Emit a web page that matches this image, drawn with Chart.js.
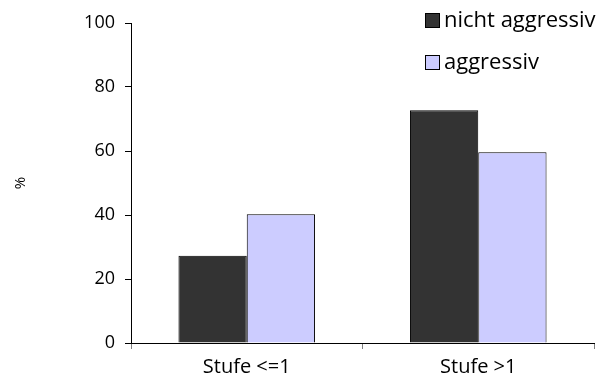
<!DOCTYPE html>
<html lang="de">
<head>
    <meta charset="UTF-8">
    <title>Aggressivität nach Stufe</title>
    <script src="https://cdn.jsdelivr.net/npm/chart.js"></script>
    <style>
        html, body { margin: 0; padding: 0; background: #fff; }
        #wrap { width: 608px; height: 385px; }
    </style>
</head>
<body>
    <div id="wrap"><canvas id="chart" width="608" height="385"></canvas></div>

    <script>
        // categories and series
        const categories = ['Stufe <=1', 'Stufe >1'];
        const nichtAggressiv = [27.3, 72.7];
        const aggressiv = [40.2, 59.6];
        const yTicks = [0, 20, 40, 60, 80, 100];

        const FONT = "'Open Sans', 'DejaVu Sans', sans-serif";

        // legend drawn in the top right corner, like the original
        const cornerLegend = {
            id: 'cornerLegend',
            afterDraw(chart) {
                const ctx = chart.ctx;
                ctx.save();
                ctx.font = '22px ' + FONT;
                ctx.textBaseline = 'middle';
                chart.data.datasets.forEach((ds, i) => {
                    const y = 21 + i * 42;
                    ctx.fillStyle = ds.backgroundColor;
                    ctx.strokeStyle = '#000';
                    ctx.lineWidth = 1;
                    ctx.fillRect(425.5, y - 7.5, 14, 14);
                    ctx.strokeRect(425.5, y - 7.5, 14, 14);
                    ctx.fillStyle = '#000';
                    ctx.fillText(ds.label, 444, y);
                });
                ctx.restore();
            }
        };

        new Chart(document.getElementById('chart').getContext('2d'), {
            type: 'bar',
            data: {
                labels: categories,
                datasets: [
                    {
                        label: 'nicht aggressiv',
                        data: nichtAggressiv,
                        backgroundColor: '#333333',
                        borderColor: '#000000',
                        borderWidth: 1
                    },
                    {
                        label: 'aggressiv',
                        data: aggressiv,
                        backgroundColor: '#ccccff',
                        borderColor: '#000000',
                        borderWidth: 1
                    }
                ]
            },
            options: {
                responsive: false,
                animation: false,
                layout: { padding: { top: 23, right: 14, left: 12, bottom: 0 } },
                datasets: { bar: { categoryPercentage: 0.59, barPercentage: 1 } },
                plugins: {
                    legend: { display: false },
                    tooltip: { enabled: false }
                },
                scales: {
                    x: {
                        grid: {
                            offset: true,
                            drawOnChartArea: false,
                            tickLength: 6,
                            color: '#808080'
                        },
                        border: { color: '#000', width: 1 },
                        ticks: { color: '#000', font: { family: FONT, size: 20 }, padding: 6 },
                        afterFit: s => { s.height = 42; }
                    },
                    y: {
                        min: 0,
                        max: 100,
                        afterBuildTicks: s => { s.ticks = yTicks.map(v => ({ value: v })); },
                        grid: {
                            drawOnChartArea: false,
                            tickLength: 6,
                            color: '#000'
                        },
                        border: { color: '#000', width: 1 },
                        ticks: { color: '#000', font: { family: FONT, size: 18 }, padding: 10 },
                        title: {
                            display: true,
                            text: '%',
                            color: '#000',
                            font: { family: FONT, size: 15 },
                            padding: { top: 0, bottom: 0 }
                        },
                        afterFit: s => { s.width = 119; }
                    }
                }
            },
            plugins: [cornerLegend]
        });
    </script>
</body>
</html>
